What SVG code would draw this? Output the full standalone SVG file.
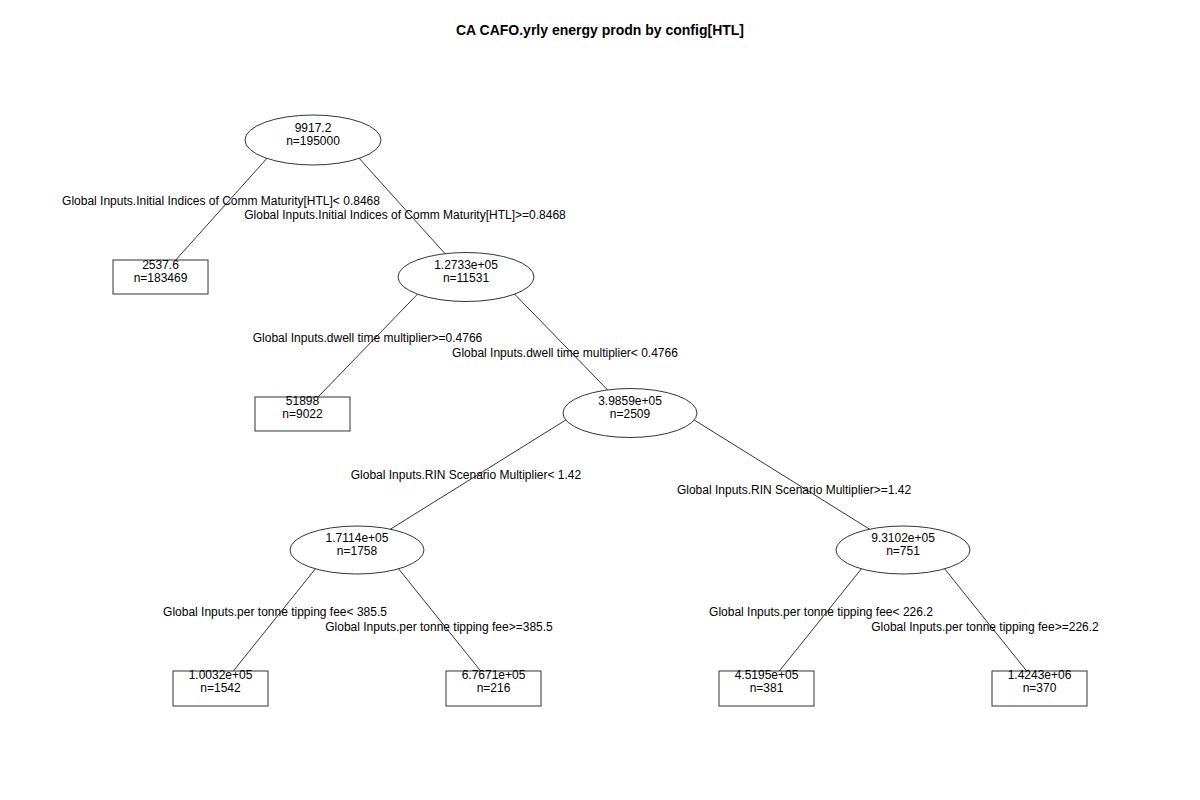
<svg xmlns="http://www.w3.org/2000/svg" width="1200" height="800" viewBox="0 0 1200 800">
<style>
text{font-family:"Liberation Sans",Arial,sans-serif;font-size:12px;fill:#000;text-anchor:middle}
.title{font-size:14px;font-weight:bold}
.edge{stroke:#333;stroke-width:1;fill:none}
.node ellipse,.node rect{fill:#fff;stroke:#333;stroke-width:1}
</style>
<rect width="1200" height="800" fill="#fff"/>
<text class="title" x="600" y="35">CA CAFO.yrly energy prodn by config[HTL]</text>
<g id="connectors">
<line class="edge" x1="283.4" y1="140" x2="160.5" y2="277"/>
<line class="edge" x1="342.7" y1="140" x2="466" y2="277"/>
<line class="edge" x1="434.1" y1="277" x2="302.5" y2="413"/>
<line class="edge" x1="498" y1="277" x2="630" y2="413"/>
<line class="edge" x1="577" y1="413" x2="357" y2="550"/>
<line class="edge" x1="683" y1="413" x2="903" y2="550"/>
<line class="edge" x1="330.5" y1="550" x2="220.5" y2="687"/>
<line class="edge" x1="383.5" y1="550" x2="493.5" y2="687"/>
<line class="edge" x1="876.5" y1="550" x2="766.5" y2="687"/>
<line class="edge" x1="929.5" y1="550" x2="1039.5" y2="687"/>
<text x="221" y="205">Global Inputs.Initial Indices of Comm Maturity[HTL]&lt; 0.8468</text>
<text x="405" y="219">Global Inputs.Initial Indices of Comm Maturity[HTL]&gt;=0.8468</text>
<text x="367.5" y="342">Global Inputs.dwell time multiplier&gt;=0.4766</text>
<text x="565" y="357">Global Inputs.dwell time multiplier&lt; 0.4766</text>
<text x="466" y="479">Global Inputs.RIN Scenario Multiplier&lt; 1.42</text>
<text x="794" y="494">Global Inputs.RIN Scenario Multiplier&gt;=1.42</text>
<text x="275" y="616">Global Inputs.per tonne tipping fee&lt; 385.5</text>
<text x="439" y="631">Global Inputs.per tonne tipping fee&gt;=385.5</text>
<text x="821" y="616">Global Inputs.per tonne tipping fee&lt; 226.2</text>
<text x="985" y="631">Global Inputs.per tonne tipping fee&gt;=226.2</text>
</g>
<g id="n1" class="node"><ellipse cx="313" cy="140" rx="68" ry="25"/><text x="313" y="132">9917.2</text><text x="313" y="145">n=195000</text></g>
<g id="n2" class="node"><rect x="113" y="260" width="95" height="34"/><text x="160.5" y="269">2537.6</text><text x="160.5" y="282">n=183469</text></g>
<g id="n3" class="node"><ellipse cx="466" cy="277" rx="68" ry="24.5"/><text x="466" y="269">1.2733e+05</text><text x="466" y="282">n=11531</text></g>
<g id="n6" class="node"><rect x="255" y="397" width="95" height="34"/><text x="302.5" y="405">51898</text><text x="302.5" y="418">n=9022</text></g>
<g id="n7" class="node"><ellipse cx="630" cy="413" rx="67" ry="24.5"/><text x="630" y="405">3.9859e+05</text><text x="630" y="418">n=2509</text></g>
<g id="n14" class="node"><ellipse cx="357" cy="550" rx="67" ry="24"/><text x="357" y="542">1.7114e+05</text><text x="357" y="555">n=1758</text></g>
<g id="n15" class="node"><ellipse cx="903" cy="550" rx="67" ry="24"/><text x="903" y="542">9.3102e+05</text><text x="903" y="555">n=751</text></g>
<g id="n28" class="node"><rect x="173" y="671" width="95" height="35"/><text x="220.5" y="679">1.0032e+05</text><text x="220.5" y="692">n=1542</text></g>
<g id="n29" class="node"><rect x="446" y="671" width="95" height="35"/><text x="493.5" y="679">6.7671e+05</text><text x="493.5" y="692">n=216</text></g>
<g id="n30" class="node"><rect x="719" y="671" width="95" height="35"/><text x="766.5" y="679">4.5195e+05</text><text x="766.5" y="692">n=381</text></g>
<g id="n31" class="node"><rect x="992" y="671" width="95" height="35"/><text x="1039.5" y="679">1.4243e+06</text><text x="1039.5" y="692">n=370</text></g>
</svg>
